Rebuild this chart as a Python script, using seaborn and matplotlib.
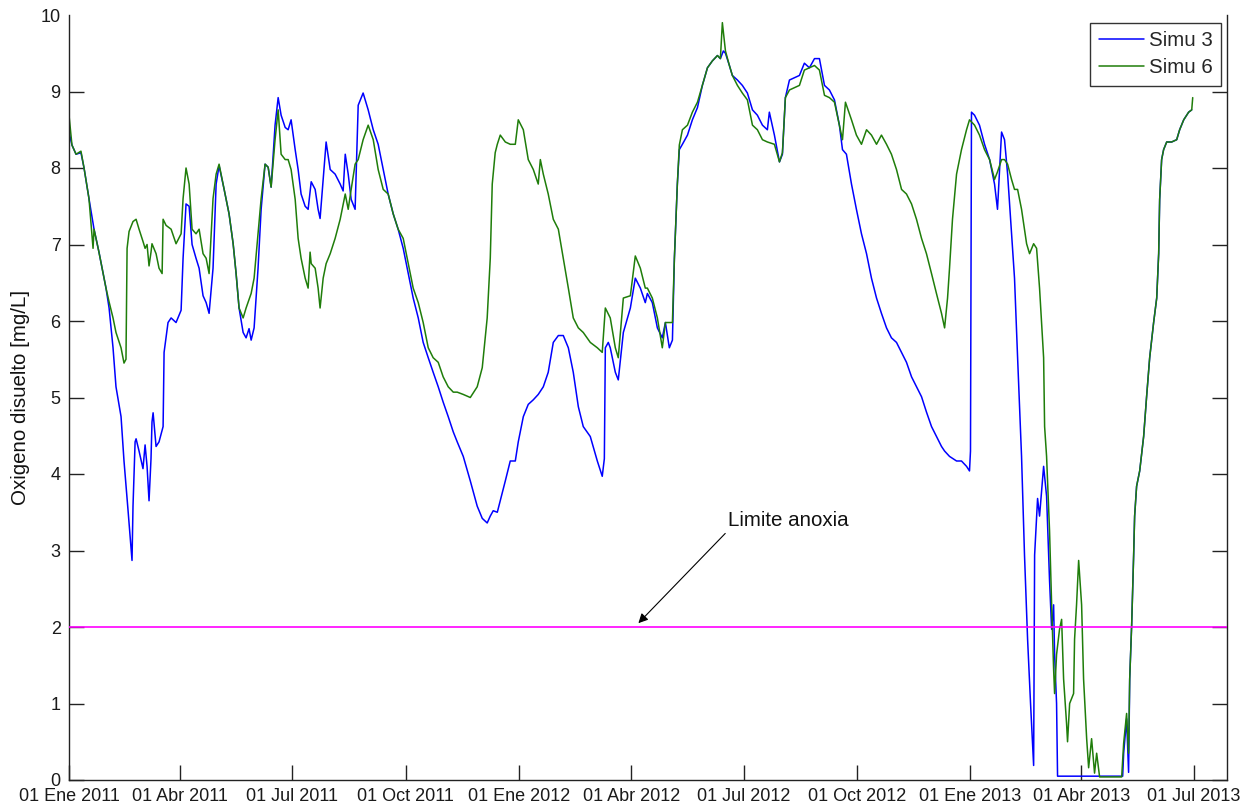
import numpy as np
import pandas as pd
import matplotlib
matplotlib.use("Agg")
import matplotlib.pyplot as plt
import seaborn as sns

# Dissolved oxygen from two simulations (days since 01-Jan-2011, mg/L)
origen = pd.Timestamp("2011-01-01")

dias_simu3 = [
    0, 2.4, 5.7, 9.7, 12.2, 16.2, 20.3, 24.3, 30.0, 32.5, 35.7, 38.1, 42.2, 44.6, 47.9,
    51.1, 51.9, 53.6, 54.4, 56.8, 60.0, 61.7, 63.3, 64.9, 66.5, 67.3, 68.2, 70.6, 73.0,
    76.3, 77.1, 80.3, 82.8, 86.8, 90.9, 92.5, 94.9, 97.4, 99.8, 103.0, 105.5, 108.7,
    111.2, 113.6, 116.8, 119.3, 121.7, 125.8, 129.8, 133.1, 135.5, 137.9, 141.2, 143.6,
    146.0, 147.7, 150.1, 153.3, 155.8, 159.0, 161.5, 163.9, 167.1, 169.6, 172.0, 175.3,
    177.7, 180.1, 183.4, 185.8, 188.2, 191.5, 193.9, 196.4, 199.6, 202.0, 203.6, 206.1,
    208.5, 211.8, 215.8, 219.9, 222.3, 224.0, 226.4, 228.8, 232.0, 234.5, 238.5, 242.6,
    246.7, 250.7, 254.8, 258.8, 262.9, 266.9, 271.0, 275.1, 279.1, 283.2, 287.2, 291.3,
    295.3, 299.4, 303.4, 307.5, 311.6, 314.8, 319.7, 325.4, 331.0, 335.1, 339.1, 341.6,
    344.0, 347.3, 349.7, 353.8, 357.8, 361.9, 364.3, 368.4, 372.4, 376.5, 380.5, 384.6,
    388.6, 392.7, 396.8, 400.8, 404.9, 408.9, 413.0, 417.0, 422.7, 428.4, 432.4, 434.1,
    434.9, 437.3, 438.9, 443.0, 445.4, 449.5, 455.2, 459.2, 463.3, 467.3, 469.0, 473.0,
    477.1, 481.1, 483.6, 486.8, 489.3, 490.9, 493.3, 494.9, 497.4, 501.5, 505.5, 509.6,
    513.6, 517.7, 521.7, 525.8, 528.2, 530.6, 532.3, 535.5, 537.9, 542.0, 546.0, 550.1,
    554.2, 558.2, 562.3, 566.3, 567.9, 572.0, 576.1, 578.5, 580.9, 584.2, 588.2, 592.3,
    596.3, 600.4, 604.5, 608.5, 612.6, 616.6, 620.7, 624.7, 627.2, 630.4, 634.5, 638.5,
    642.6, 646.7, 650.7, 654.8, 658.8, 662.9, 666.9, 671.0, 675.1, 679.1, 683.2, 687.2,
    691.3, 695.3, 699.4, 703.4, 707.5, 710.0, 714.0, 719.7, 723.7, 727.8, 730.2, 731.0,
    731.8, 734.3, 738.3, 742.4, 746.5, 750.5, 752.9, 756.2, 758.6, 761.1, 764.3, 766.7,
    769.2, 772.4, 774.8, 777.3, 779.7, 782.2, 783.0, 785.4, 787.0, 790.3, 792.7, 795.1,
    796.8, 798.4, 799.2, 800.8, 801.6, 854.4, 855.2, 857.6, 859.2, 860.1, 861.7, 863.3,
    864.1, 865.7, 868.2, 871.4, 873.8, 876.3, 879.5, 882.0, 883.6, 884.4, 886.0, 887.6,
    890.1, 894.1, 898.2, 900.6, 903.9, 907.9, 910.4,
]
od_simu3 = [
    8.47, 8.30, 8.18, 8.20, 8.00, 7.60, 7.20, 6.90, 6.43, 6.17, 5.65, 5.14, 4.75, 4.17, 3.52,
    2.87, 3.58, 4.42, 4.46, 4.30, 4.07, 4.38, 4.10, 3.65, 4.20, 4.68, 4.80, 4.36, 4.42,
    4.62, 5.59, 5.98, 6.04, 5.98, 6.14, 6.82, 7.53, 7.50, 7.00, 6.82, 6.69, 6.33,
    6.24, 6.10, 6.69, 7.79, 8.03, 7.72, 7.40, 7.01, 6.62, 6.17, 5.85, 5.78,
    5.90, 5.75, 5.91, 6.69, 7.46, 8.05, 8.01, 7.75, 8.56, 8.92, 8.69, 8.53,
    8.50, 8.63, 8.24, 7.98, 7.66, 7.50, 7.46, 7.82, 7.72, 7.46, 7.34, 7.85,
    8.34, 7.98, 7.92, 7.79, 7.70, 8.18, 7.92, 7.59, 7.46, 8.82, 8.98, 8.76,
    8.50, 8.31, 7.98, 7.66, 7.40, 7.20, 6.95, 6.62, 6.30, 6.04, 5.72, 5.52,
    5.33, 5.14, 4.94, 4.75, 4.55, 4.42, 4.23, 3.91, 3.58, 3.42, 3.36, 3.45,
    3.52, 3.50, 3.65, 3.91, 4.17, 4.17, 4.42, 4.75, 4.91, 4.97, 5.04, 5.14,
    5.33, 5.72, 5.81, 5.81, 5.65, 5.33, 4.88, 4.62, 4.49, 4.17, 3.97, 4.20,
    5.65, 5.72, 5.65, 5.33, 5.23, 5.85, 6.17, 6.56, 6.43, 6.24, 6.36, 6.24,
    5.91, 5.78, 5.98, 5.65, 5.75, 6.82, 7.79, 8.24, 8.31, 8.43, 8.63, 8.79,
    9.08, 9.31, 9.40, 9.47, 9.43, 9.53, 9.50, 9.34, 9.21, 9.15, 9.08, 8.98,
    8.76, 8.69, 8.56, 8.50, 8.73, 8.43, 8.08, 8.18, 8.92, 9.15, 9.18, 9.21,
    9.37, 9.31, 9.43, 9.43, 9.08, 9.02, 8.89, 8.56, 8.24, 8.18, 7.79, 7.46,
    7.14, 6.88, 6.56, 6.30, 6.10, 5.91, 5.78, 5.72, 5.59, 5.46, 5.27, 5.14,
    5.01, 4.81, 4.62, 4.49, 4.36, 4.30, 4.23, 4.17, 4.17, 4.10, 4.04, 4.30,
    8.73, 8.69, 8.56, 8.31, 8.11, 7.79, 7.46, 8.47, 8.37, 7.92, 7.14, 6.56,
    5.52, 4.23, 2.94, 1.84, 1.00, 0.19, 2.94, 3.68, 3.45, 4.10, 3.71, 2.61,
    1.97, 2.29, 1.64, 1.00, 0.05, 0.05, 0.35, 0.80, 0.10, 1.32, 2.03, 2.94,
    3.45, 3.84, 4.04, 4.49, 5.01, 5.52, 5.98, 6.30, 6.88, 7.59, 8.11, 8.24,
    8.34, 8.34, 8.37, 8.50, 8.63, 8.73, 8.76,
]

dias_simu6 = [
    0, 2.4, 5.7, 9.7, 12.2, 16.2, 19.5, 20.3, 24.3, 30.0, 32.5, 35.7, 38.1, 42.2, 44.6,
    46.2, 47.1, 48.7, 51.9, 54.4, 56.8, 60.0, 61.7, 63.3, 64.9, 66.5, 67.3, 70.6, 73.0,
    75.5, 76.3, 78.7, 82.8, 86.8, 90.9, 92.5, 94.9, 97.4, 99.8, 103.0, 105.5, 108.7,
    111.2, 113.6, 116.8, 119.3, 121.7, 125.8, 129.8, 133.1, 135.5, 137.9, 141.2, 143.6,
    147.7, 150.1, 153.3, 155.8, 159.0, 161.5, 163.9, 167.1, 169.6, 172.0, 175.3, 177.7,
    180.1, 183.4, 185.8, 188.2, 191.5, 193.9, 195.5, 196.4, 199.6, 202.0, 203.6, 206.1,
    208.5, 211.8, 215.8, 219.9, 224.0, 226.4, 228.8, 232.0, 234.5, 238.5, 242.6, 246.7,
    250.7, 254.8, 258.8, 262.9, 266.9, 271.0, 275.1, 279.1, 283.2, 287.2, 291.3, 295.3,
    299.4, 303.4, 307.5, 311.6, 314.8, 319.7, 325.4, 331.0, 335.1, 339.1, 341.6, 343.2,
    345.6, 347.3, 349.7, 353.8, 357.8, 361.9, 364.3, 368.4, 372.4, 376.5, 380.5, 382.2,
    384.6, 388.6, 392.7, 396.8, 400.8, 404.9, 408.9, 413.0, 417.0, 422.7, 428.4, 432.4,
    434.9, 438.9, 443.0, 445.4, 449.5, 455.2, 459.2, 463.3, 467.3, 469.0, 473.0, 477.1,
    481.1, 483.6, 486.8, 489.3, 490.9, 493.3, 494.9, 497.4, 501.5, 505.5, 509.6, 513.6,
    517.7, 521.7, 525.8, 528.2, 529.8, 532.3, 535.5, 537.9, 542.0, 546.0, 550.1, 554.2,
    558.2, 562.3, 566.3, 572.0, 576.1, 578.5, 580.9, 584.2, 588.2, 592.3, 596.3, 600.4,
    604.5, 608.5, 612.6, 616.6, 620.7, 624.7, 627.2, 629.6, 634.5, 638.5, 642.6, 646.7,
    650.7, 654.8, 658.8, 662.9, 666.9, 671.0, 675.1, 679.1, 683.2, 687.2, 691.3, 695.3,
    699.4, 703.4, 707.5, 710.0, 712.4, 714.0, 716.4, 719.7, 723.7, 727.8, 730.2, 734.3,
    738.3, 742.4, 746.5, 750.5, 752.9, 756.2, 758.6, 761.1, 764.3, 766.7, 769.2, 772.4,
    774.8, 776.5, 778.9, 782.2, 784.6, 787.0, 790.3, 791.1, 792.7, 794.3, 795.1, 796.8,
    798.4, 799.2, 800.8, 803.2, 804.9, 806.5, 808.9, 809.7, 811.4, 814.6, 815.4, 817.0,
    818.7, 821.1, 822.7, 825.2, 826.8, 829.2, 831.6, 833.3, 835.7, 853.6, 855.2, 857.6,
    859.2, 860.1, 861.7, 863.3, 864.1, 865.7, 868.2, 871.4, 873.8, 876.3, 879.5, 882.0,
    883.6, 884.4, 886.0, 887.6, 890.1, 894.1, 898.2, 900.6, 903.9, 907.9, 910.4, 911.2,
]
od_simu6 = [
    8.69, 8.30, 8.18, 8.22, 8.00, 7.60, 6.95, 7.20, 6.90, 6.43, 6.25, 6.04, 5.85, 5.65, 5.45,
    5.50, 6.95, 7.17, 7.30, 7.33, 7.20, 7.04, 6.95, 7.00, 6.72, 6.90, 7.01, 6.88, 6.69,
    6.62, 7.33, 7.25, 7.20, 7.01, 7.14, 7.60, 8.00, 7.79, 7.20, 7.14, 7.20, 6.88,
    6.82, 6.62, 7.60, 7.92, 8.05, 7.72, 7.40, 7.01, 6.62, 6.17, 6.04, 6.17,
    6.36, 6.56, 7.14, 7.60, 8.05, 8.01, 7.75, 8.37, 8.76, 8.18, 8.11, 8.11,
    7.98, 7.59, 7.08, 6.82, 6.56, 6.43, 6.90, 6.75, 6.69, 6.43, 6.17, 6.56,
    6.75, 6.88, 7.08, 7.33, 7.66, 7.46, 7.72, 8.05, 8.11, 8.37, 8.56, 8.37,
    7.98, 7.72, 7.66, 7.40, 7.20, 7.08, 6.75, 6.43, 6.24, 5.98, 5.65, 5.52,
    5.46, 5.27, 5.14, 5.07, 5.07, 5.04, 5.00, 5.14, 5.39, 6.04, 6.82, 7.79,
    8.20, 8.31, 8.43, 8.34, 8.31, 8.31, 8.63, 8.50, 8.11, 7.98, 7.79, 8.11,
    7.92, 7.66, 7.33, 7.20, 6.82, 6.43, 6.04, 5.91, 5.85, 5.72, 5.65, 5.59,
    6.17, 6.04, 5.65, 5.52, 6.30, 6.33, 6.85, 6.69, 6.43, 6.43, 6.30, 6.04,
    5.65, 5.98, 5.98, 5.98, 6.82, 7.79, 8.30, 8.50, 8.56, 8.73, 8.86, 9.08,
    9.31, 9.40, 9.47, 9.43, 9.90, 9.53, 9.34, 9.21, 9.08, 8.98, 8.89, 8.56,
    8.50, 8.37, 8.34, 8.31, 8.08, 8.20, 8.92, 9.02, 9.05, 9.08, 9.28, 9.31,
    9.34, 9.28, 8.95, 8.92, 8.86, 8.56, 8.37, 8.86, 8.63, 8.43, 8.31, 8.50,
    8.43, 8.31, 8.43, 8.31, 8.18, 7.98, 7.72, 7.66, 7.53, 7.33, 7.08, 6.88,
    6.62, 6.36, 6.10, 5.91, 6.30, 6.69, 7.33, 7.92, 8.24, 8.50, 8.63, 8.56,
    8.43, 8.24, 8.11, 7.85, 7.95, 8.11, 8.11, 8.05, 7.85, 7.72, 7.72, 7.46,
    7.20, 7.01, 6.88, 7.01, 6.95, 6.43, 5.52, 4.62, 4.23, 3.58, 3.26, 2.29,
    1.45, 1.13, 1.64, 1.97, 2.10, 1.32, 0.74, 0.50, 1.00, 1.13, 1.84, 2.29,
    2.87, 2.29, 1.32, 0.54, 0.16, 0.54, 0.09, 0.35, 0.04, 0.04, 0.48, 0.87,
    0.35, 1.32, 2.03, 2.94, 3.45, 3.84, 4.04, 4.49, 5.01, 5.52, 5.98, 6.30,
    6.88, 7.59, 8.11, 8.24, 8.34, 8.34, 8.37, 8.50, 8.63, 8.73, 8.76, 8.92,
]

series = ["Simu 3", "Simu 6"]
colores = ["#0000ff", "#1f7d0a"]

limite_anoxia = 2.0
etiqueta_limite = "Limite anoxia"
dia_flecha, od_flecha = 461.7, 2.05
dia_texto, od_texto = 534.7, 3.39

fechas_ticks = ["2011-01-01", "2011-04-01", "2011-07-01", "2011-10-01", "2012-01-01",
                "2012-04-01", "2012-07-01", "2012-10-01", "2013-01-01", "2013-04-01",
                "2013-07-01"]
etiquetas_ticks = ["01 Ene 2011", "01 Abr 2011", "01 Jul 2011", "01 Oct 2011",
                   "01 Ene 2012", "01 Abr 2012", "01 Jul 2012", "01 Oct 2012",
                   "01 Ene 2013", "01 Abr 2013", "01 Jul 2013"]
fecha_fin = "2013-07-28"

df = pd.concat([
    pd.DataFrame({"fecha": origen + pd.to_timedelta(dias_simu3, unit="D"),
                  "od": od_simu3, "serie": series[0]}),
    pd.DataFrame({"fecha": origen + pd.to_timedelta(dias_simu6, unit="D"),
                  "od": od_simu6, "serie": series[1]}),
], ignore_index=True)

sns.set_theme(style="white")
plt.rcParams["font.family"] = ["Liberation Sans", "DejaVu Sans"]
fs_ticks = 13
fs_texto = 14.8

fig = plt.figure(figsize=(12.52, 8.07), dpi=100)
ax = fig.add_axes([69 / 1252, 1 - 780 / 807, 1158 / 1252, 765 / 807])

sns.lineplot(data=df, x="fecha", y="od", hue="serie", hue_order=series,
             palette=colores, estimator=None, sort=False, linewidth=1.1, ax=ax)

ax.axhline(limite_anoxia, color="#ff00ff", linewidth=1.2, zorder=5)

ax.annotate(etiqueta_limite,
            xy=(origen + pd.Timedelta(days=dia_flecha), od_flecha),
            xytext=(origen + pd.Timedelta(days=dia_texto), od_texto),
            fontsize=fs_texto, ha="left", va="center", color="#111111",
            arrowprops=dict(arrowstyle="-|>", color="black", lw=0.8,
                            shrinkA=0, shrinkB=0, relpos=(0, 0),
                            mutation_scale=14))

ax.set_xlim(origen, pd.Timestamp(fecha_fin))
ax.set_ylim(0, 10)
ax.set_xticks(pd.to_datetime(fechas_ticks))
ax.set_xticklabels(etiquetas_ticks)
ax.set_yticks(np.arange(0, 11, 1))
ax.set_yticklabels([str(v) for v in range(0, 11)])

ax.set_xlabel("")
ax.set_ylabel("Oxigeno disuelto [mg/L]", fontsize=fs_texto, color="#111111")
ax.yaxis.set_label_coords(-0.034, 0.5)

for lado in ["left", "bottom", "right"]:
    ax.spines[lado].set_visible(True)
    ax.spines[lado].set_color("#222222")
    ax.spines[lado].set_linewidth(1.0)
ax.spines["top"].set_visible(False)

ax.tick_params(axis="both", direction="in", length=11, width=1.0, color="#222222",
               labelsize=fs_ticks, labelcolor="#1a1a1a", pad=6)
ax.tick_params(axis="y", left=True, right=True)
ax.tick_params(axis="x", bottom=True, top=False)

# the top y tick mark sits at the open upper edge; keep only its label
tick_sup = ax.yaxis.get_major_ticks()[-1]
tick_sup.tick1line.set_visible(False)
tick_sup.tick2line.set_visible(False)

leg = ax.legend(loc="upper right", bbox_to_anchor=((1221 - 69) / 1158, (780 - 23) / 765),
                borderaxespad=0, frameon=True, fancybox=False, fontsize=fs_texto,
                handlelength=2.2, handletextpad=0.25, labelspacing=0.4,
                borderpad=0.4, title=None)
leg.get_frame().set_edgecolor("black")
leg.get_frame().set_linewidth(1.0)
for linea in leg.get_lines():
    linea.set_linewidth(1.1)

fig.savefig("out.png", dpi=100, facecolor="white")
